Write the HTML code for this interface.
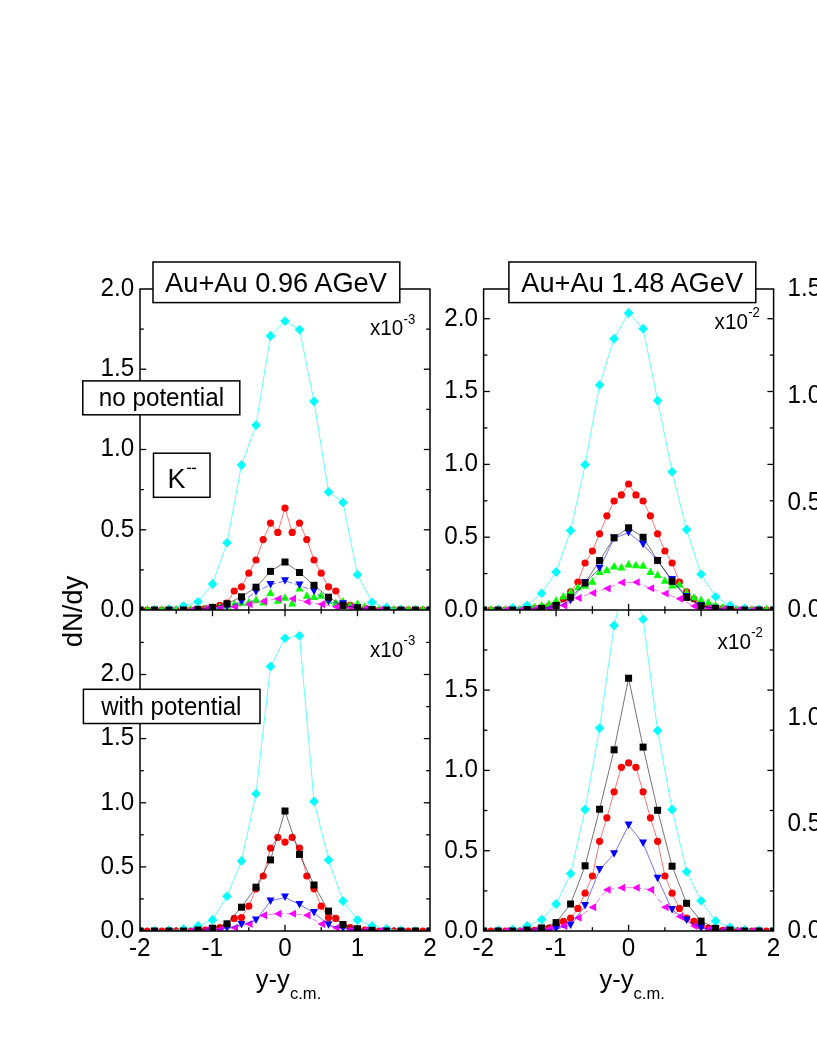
<!DOCTYPE html>
<html><head><meta charset="utf-8"><title>dN/dy</title>
<style>html,body{margin:0;padding:0;background:#fff}body{width:817px;height:1058px;overflow:hidden;font-family:"Liberation Sans",sans-serif}</style></head>
<body>
<svg width="817" height="1058" viewBox="0 0 817 1058" style="display:block;will-change:transform">
<defs>
<clipPath id="c1t"><rect x="140.0" y="289.0" width="290.0" height="321.0"/></clipPath>
<clipPath id="c1b"><rect x="140.0" y="610.0" width="290.0" height="321.0"/></clipPath>
<clipPath id="c2t"><rect x="483.6" y="289.0" width="290.0" height="321.0"/></clipPath>
<clipPath id="c2b"><rect x="483.6" y="610.0" width="290.0" height="321.0"/></clipPath>
</defs>
<rect width="817" height="1058" fill="#fff"/>
<line x1="140.0" y1="569.9" x2="143.8" y2="569.9" stroke="#000" stroke-width="1.3"/>
<line x1="426.2" y1="569.9" x2="430.0" y2="569.9" stroke="#000" stroke-width="1.3"/>
<line x1="140.0" y1="529.8" x2="146.2" y2="529.8" stroke="#000" stroke-width="1.3"/>
<line x1="423.8" y1="529.8" x2="430.0" y2="529.8" stroke="#000" stroke-width="1.3"/>
<line x1="140.0" y1="489.6" x2="143.8" y2="489.6" stroke="#000" stroke-width="1.3"/>
<line x1="426.2" y1="489.6" x2="430.0" y2="489.6" stroke="#000" stroke-width="1.3"/>
<line x1="140.0" y1="449.5" x2="146.2" y2="449.5" stroke="#000" stroke-width="1.3"/>
<line x1="423.8" y1="449.5" x2="430.0" y2="449.5" stroke="#000" stroke-width="1.3"/>
<line x1="140.0" y1="409.4" x2="143.8" y2="409.4" stroke="#000" stroke-width="1.3"/>
<line x1="426.2" y1="409.4" x2="430.0" y2="409.4" stroke="#000" stroke-width="1.3"/>
<line x1="140.0" y1="369.2" x2="146.2" y2="369.2" stroke="#000" stroke-width="1.3"/>
<line x1="423.8" y1="369.2" x2="430.0" y2="369.2" stroke="#000" stroke-width="1.3"/>
<line x1="140.0" y1="329.1" x2="143.8" y2="329.1" stroke="#000" stroke-width="1.3"/>
<line x1="426.2" y1="329.1" x2="430.0" y2="329.1" stroke="#000" stroke-width="1.3"/>
<line x1="140.0" y1="898.9" x2="143.8" y2="898.9" stroke="#000" stroke-width="1.3"/>
<line x1="426.2" y1="898.9" x2="430.0" y2="898.9" stroke="#000" stroke-width="1.3"/>
<line x1="140.0" y1="866.9" x2="146.2" y2="866.9" stroke="#000" stroke-width="1.3"/>
<line x1="423.8" y1="866.9" x2="430.0" y2="866.9" stroke="#000" stroke-width="1.3"/>
<line x1="140.0" y1="834.8" x2="143.8" y2="834.8" stroke="#000" stroke-width="1.3"/>
<line x1="426.2" y1="834.8" x2="430.0" y2="834.8" stroke="#000" stroke-width="1.3"/>
<line x1="140.0" y1="802.8" x2="146.2" y2="802.8" stroke="#000" stroke-width="1.3"/>
<line x1="423.8" y1="802.8" x2="430.0" y2="802.8" stroke="#000" stroke-width="1.3"/>
<line x1="140.0" y1="770.7" x2="143.8" y2="770.7" stroke="#000" stroke-width="1.3"/>
<line x1="426.2" y1="770.7" x2="430.0" y2="770.7" stroke="#000" stroke-width="1.3"/>
<line x1="140.0" y1="738.6" x2="146.2" y2="738.6" stroke="#000" stroke-width="1.3"/>
<line x1="423.8" y1="738.6" x2="430.0" y2="738.6" stroke="#000" stroke-width="1.3"/>
<line x1="140.0" y1="706.6" x2="143.8" y2="706.6" stroke="#000" stroke-width="1.3"/>
<line x1="426.2" y1="706.6" x2="430.0" y2="706.6" stroke="#000" stroke-width="1.3"/>
<line x1="140.0" y1="674.5" x2="146.2" y2="674.5" stroke="#000" stroke-width="1.3"/>
<line x1="423.8" y1="674.5" x2="430.0" y2="674.5" stroke="#000" stroke-width="1.3"/>
<line x1="140.0" y1="642.4" x2="143.8" y2="642.4" stroke="#000" stroke-width="1.3"/>
<line x1="426.2" y1="642.4" x2="430.0" y2="642.4" stroke="#000" stroke-width="1.3"/>
<line x1="483.6" y1="573.6" x2="487.4" y2="573.6" stroke="#000" stroke-width="1.3"/>
<line x1="769.8" y1="573.6" x2="773.6" y2="573.6" stroke="#000" stroke-width="1.3"/>
<line x1="483.6" y1="537.2" x2="489.8" y2="537.2" stroke="#000" stroke-width="1.3"/>
<line x1="767.4" y1="537.2" x2="773.6" y2="537.2" stroke="#000" stroke-width="1.3"/>
<line x1="483.6" y1="500.8" x2="487.4" y2="500.8" stroke="#000" stroke-width="1.3"/>
<line x1="769.8" y1="500.8" x2="773.6" y2="500.8" stroke="#000" stroke-width="1.3"/>
<line x1="483.6" y1="464.4" x2="489.8" y2="464.4" stroke="#000" stroke-width="1.3"/>
<line x1="767.4" y1="464.4" x2="773.6" y2="464.4" stroke="#000" stroke-width="1.3"/>
<line x1="483.6" y1="427.9" x2="487.4" y2="427.9" stroke="#000" stroke-width="1.3"/>
<line x1="769.8" y1="427.9" x2="773.6" y2="427.9" stroke="#000" stroke-width="1.3"/>
<line x1="483.6" y1="391.5" x2="489.8" y2="391.5" stroke="#000" stroke-width="1.3"/>
<line x1="767.4" y1="391.5" x2="773.6" y2="391.5" stroke="#000" stroke-width="1.3"/>
<line x1="483.6" y1="355.1" x2="487.4" y2="355.1" stroke="#000" stroke-width="1.3"/>
<line x1="769.8" y1="355.1" x2="773.6" y2="355.1" stroke="#000" stroke-width="1.3"/>
<line x1="483.6" y1="318.7" x2="489.8" y2="318.7" stroke="#000" stroke-width="1.3"/>
<line x1="767.4" y1="318.7" x2="773.6" y2="318.7" stroke="#000" stroke-width="1.3"/>
<line x1="483.6" y1="890.9" x2="487.4" y2="890.9" stroke="#000" stroke-width="1.3"/>
<line x1="769.8" y1="890.9" x2="773.6" y2="890.9" stroke="#000" stroke-width="1.3"/>
<line x1="483.6" y1="850.7" x2="489.8" y2="850.7" stroke="#000" stroke-width="1.3"/>
<line x1="767.4" y1="850.7" x2="773.6" y2="850.7" stroke="#000" stroke-width="1.3"/>
<line x1="483.6" y1="810.5" x2="487.4" y2="810.5" stroke="#000" stroke-width="1.3"/>
<line x1="769.8" y1="810.5" x2="773.6" y2="810.5" stroke="#000" stroke-width="1.3"/>
<line x1="483.6" y1="770.4" x2="489.8" y2="770.4" stroke="#000" stroke-width="1.3"/>
<line x1="767.4" y1="770.4" x2="773.6" y2="770.4" stroke="#000" stroke-width="1.3"/>
<line x1="483.6" y1="730.2" x2="487.4" y2="730.2" stroke="#000" stroke-width="1.3"/>
<line x1="769.8" y1="730.2" x2="773.6" y2="730.2" stroke="#000" stroke-width="1.3"/>
<line x1="483.6" y1="690.1" x2="489.8" y2="690.1" stroke="#000" stroke-width="1.3"/>
<line x1="767.4" y1="690.1" x2="773.6" y2="690.1" stroke="#000" stroke-width="1.3"/>
<line x1="483.6" y1="650.0" x2="487.4" y2="650.0" stroke="#000" stroke-width="1.3"/>
<line x1="769.8" y1="650.0" x2="773.6" y2="650.0" stroke="#000" stroke-width="1.3"/>
<line x1="176.2" y1="606.2" x2="176.2" y2="613.8" stroke="#000" stroke-width="1.3"/>
<line x1="176.2" y1="927.2" x2="176.2" y2="931.0" stroke="#000" stroke-width="1.3"/>
<line x1="212.5" y1="603.8" x2="212.5" y2="616.2" stroke="#000" stroke-width="1.3"/>
<line x1="212.5" y1="924.8" x2="212.5" y2="931.0" stroke="#000" stroke-width="1.3"/>
<line x1="248.8" y1="606.2" x2="248.8" y2="613.8" stroke="#000" stroke-width="1.3"/>
<line x1="248.8" y1="927.2" x2="248.8" y2="931.0" stroke="#000" stroke-width="1.3"/>
<line x1="285.0" y1="603.8" x2="285.0" y2="616.2" stroke="#000" stroke-width="1.3"/>
<line x1="285.0" y1="924.8" x2="285.0" y2="931.0" stroke="#000" stroke-width="1.3"/>
<line x1="321.2" y1="606.2" x2="321.2" y2="613.8" stroke="#000" stroke-width="1.3"/>
<line x1="321.2" y1="927.2" x2="321.2" y2="931.0" stroke="#000" stroke-width="1.3"/>
<line x1="357.5" y1="603.8" x2="357.5" y2="616.2" stroke="#000" stroke-width="1.3"/>
<line x1="357.5" y1="924.8" x2="357.5" y2="931.0" stroke="#000" stroke-width="1.3"/>
<line x1="393.8" y1="606.2" x2="393.8" y2="613.8" stroke="#000" stroke-width="1.3"/>
<line x1="393.8" y1="927.2" x2="393.8" y2="931.0" stroke="#000" stroke-width="1.3"/>
<line x1="519.9" y1="606.2" x2="519.9" y2="613.8" stroke="#000" stroke-width="1.3"/>
<line x1="519.9" y1="927.2" x2="519.9" y2="931.0" stroke="#000" stroke-width="1.3"/>
<line x1="556.1" y1="603.8" x2="556.1" y2="616.2" stroke="#000" stroke-width="1.3"/>
<line x1="556.1" y1="924.8" x2="556.1" y2="931.0" stroke="#000" stroke-width="1.3"/>
<line x1="592.4" y1="606.2" x2="592.4" y2="613.8" stroke="#000" stroke-width="1.3"/>
<line x1="592.4" y1="927.2" x2="592.4" y2="931.0" stroke="#000" stroke-width="1.3"/>
<line x1="628.6" y1="603.8" x2="628.6" y2="616.2" stroke="#000" stroke-width="1.3"/>
<line x1="628.6" y1="924.8" x2="628.6" y2="931.0" stroke="#000" stroke-width="1.3"/>
<line x1="664.9" y1="606.2" x2="664.9" y2="613.8" stroke="#000" stroke-width="1.3"/>
<line x1="664.9" y1="927.2" x2="664.9" y2="931.0" stroke="#000" stroke-width="1.3"/>
<line x1="701.1" y1="603.8" x2="701.1" y2="616.2" stroke="#000" stroke-width="1.3"/>
<line x1="701.1" y1="924.8" x2="701.1" y2="931.0" stroke="#000" stroke-width="1.3"/>
<line x1="737.4" y1="606.2" x2="737.4" y2="613.8" stroke="#000" stroke-width="1.3"/>
<line x1="737.4" y1="927.2" x2="737.4" y2="931.0" stroke="#000" stroke-width="1.3"/>
<g clip-path="url(#c1t)">
<polyline points="140.0,610.0 147.2,610.0 154.5,610.0 161.8,610.0 169.0,610.0 176.2,610.0 183.5,610.0 190.8,610.0 198.0,609.3 205.2,608.5 212.5,607.5 219.8,605.3 227.0,603.0 234.2,591.0 241.5,586.8 248.8,573.2 256.0,560.0 263.2,539.6 270.5,523.1 277.8,532.4 285.0,508.1 292.2,532.4 299.5,523.1 306.8,539.6 314.0,560.0 321.2,573.2 328.5,586.8 335.8,591.0 343.0,603.0 350.2,605.3 357.5,607.5 364.8,608.5 372.0,609.3 379.2,610.0 386.5,610.0 393.8,610.0 401.0,610.0 408.2,610.0 415.5,610.0 422.8,610.0 430.0,610.0" fill="none" stroke="#ff0000" stroke-width="0.55"/>
<circle cx="140.0" cy="610.0" r="3.6" fill="#ff0000"/>
<circle cx="147.2" cy="610.0" r="3.6" fill="#ff0000"/>
<circle cx="154.5" cy="610.0" r="3.6" fill="#ff0000"/>
<circle cx="161.8" cy="610.0" r="3.6" fill="#ff0000"/>
<circle cx="169.0" cy="610.0" r="3.6" fill="#ff0000"/>
<circle cx="176.2" cy="610.0" r="3.6" fill="#ff0000"/>
<circle cx="183.5" cy="610.0" r="3.6" fill="#ff0000"/>
<circle cx="190.8" cy="610.0" r="3.6" fill="#ff0000"/>
<circle cx="198.0" cy="609.3" r="3.6" fill="#ff0000"/>
<circle cx="205.2" cy="608.5" r="3.6" fill="#ff0000"/>
<circle cx="212.5" cy="607.5" r="3.6" fill="#ff0000"/>
<circle cx="219.8" cy="605.3" r="3.6" fill="#ff0000"/>
<circle cx="227.0" cy="603.0" r="3.6" fill="#ff0000"/>
<circle cx="234.2" cy="591.0" r="3.6" fill="#ff0000"/>
<circle cx="241.5" cy="586.8" r="3.6" fill="#ff0000"/>
<circle cx="248.8" cy="573.2" r="3.6" fill="#ff0000"/>
<circle cx="256.0" cy="560.0" r="3.6" fill="#ff0000"/>
<circle cx="263.2" cy="539.6" r="3.6" fill="#ff0000"/>
<circle cx="270.5" cy="523.1" r="3.6" fill="#ff0000"/>
<circle cx="277.8" cy="532.4" r="3.6" fill="#ff0000"/>
<circle cx="285.0" cy="508.1" r="3.6" fill="#ff0000"/>
<circle cx="292.2" cy="532.4" r="3.6" fill="#ff0000"/>
<circle cx="299.5" cy="523.1" r="3.6" fill="#ff0000"/>
<circle cx="306.8" cy="539.6" r="3.6" fill="#ff0000"/>
<circle cx="314.0" cy="560.0" r="3.6" fill="#ff0000"/>
<circle cx="321.2" cy="573.2" r="3.6" fill="#ff0000"/>
<circle cx="328.5" cy="586.8" r="3.6" fill="#ff0000"/>
<circle cx="335.8" cy="591.0" r="3.6" fill="#ff0000"/>
<circle cx="343.0" cy="603.0" r="3.6" fill="#ff0000"/>
<circle cx="350.2" cy="605.3" r="3.6" fill="#ff0000"/>
<circle cx="357.5" cy="607.5" r="3.6" fill="#ff0000"/>
<circle cx="364.8" cy="608.5" r="3.6" fill="#ff0000"/>
<circle cx="372.0" cy="609.3" r="3.6" fill="#ff0000"/>
<circle cx="379.2" cy="610.0" r="3.6" fill="#ff0000"/>
<circle cx="386.5" cy="610.0" r="3.6" fill="#ff0000"/>
<circle cx="393.8" cy="610.0" r="3.6" fill="#ff0000"/>
<circle cx="401.0" cy="610.0" r="3.6" fill="#ff0000"/>
<circle cx="408.2" cy="610.0" r="3.6" fill="#ff0000"/>
<circle cx="415.5" cy="610.0" r="3.6" fill="#ff0000"/>
<circle cx="422.8" cy="610.0" r="3.6" fill="#ff0000"/>
<circle cx="430.0" cy="610.0" r="3.6" fill="#ff0000"/>
<polyline points="140.0,608.7 147.2,608.7 154.5,608.7 161.8,608.7 169.0,608.7 176.2,608.7 183.5,608.7 190.8,608.7 198.0,608.5 205.2,608.0 212.5,607.0 219.8,606.0 227.0,605.0 234.2,603.7 241.5,602.0 248.8,601.8 256.0,599.3 263.2,601.8 270.5,592.4 277.8,600.0 285.0,597.0 292.2,602.7 299.5,587.8 306.8,595.0 314.0,596.2 321.2,595.0 328.5,600.0 335.8,602.4 343.0,600.6 350.2,605.0 357.5,603.0 364.8,606.0 372.0,607.5 379.2,608.5 386.5,608.7 393.8,608.7 401.0,608.7 408.2,608.7 415.5,608.7 422.8,608.7 430.0,608.7" fill="none" stroke="#00ff00" stroke-width="0.55" stroke-dasharray="4 2.5"/>
<polygon points="136.0,612.5 144.0,612.5 140.0,605.0" fill="#00ff00"/>
<polygon points="143.2,612.5 151.2,612.5 147.2,605.0" fill="#00ff00"/>
<polygon points="150.5,612.5 158.5,612.5 154.5,605.0" fill="#00ff00"/>
<polygon points="157.8,612.5 165.8,612.5 161.8,605.0" fill="#00ff00"/>
<polygon points="165.0,612.5 173.0,612.5 169.0,605.0" fill="#00ff00"/>
<polygon points="172.2,612.5 180.2,612.5 176.2,605.0" fill="#00ff00"/>
<polygon points="179.5,612.5 187.5,612.5 183.5,605.0" fill="#00ff00"/>
<polygon points="186.8,612.5 194.8,612.5 190.8,605.0" fill="#00ff00"/>
<polygon points="194.0,612.2 202.0,612.2 198.0,604.8" fill="#00ff00"/>
<polygon points="201.2,611.8 209.2,611.8 205.2,604.2" fill="#00ff00"/>
<polygon points="208.5,610.8 216.5,610.8 212.5,603.2" fill="#00ff00"/>
<polygon points="215.8,609.8 223.8,609.8 219.8,602.2" fill="#00ff00"/>
<polygon points="223.0,608.8 231.0,608.8 227.0,601.2" fill="#00ff00"/>
<polygon points="230.2,607.5 238.2,607.5 234.2,600.0" fill="#00ff00"/>
<polygon points="237.5,605.8 245.5,605.8 241.5,598.2" fill="#00ff00"/>
<polygon points="244.8,605.5 252.8,605.5 248.8,598.0" fill="#00ff00"/>
<polygon points="252.0,603.0 260.0,603.0 256.0,595.5" fill="#00ff00"/>
<polygon points="259.2,605.5 267.2,605.5 263.2,598.0" fill="#00ff00"/>
<polygon points="266.5,596.1 274.5,596.1 270.5,588.6" fill="#00ff00"/>
<polygon points="273.8,603.8 281.8,603.8 277.8,596.2" fill="#00ff00"/>
<polygon points="281.0,600.8 289.0,600.8 285.0,593.2" fill="#00ff00"/>
<polygon points="288.2,606.5 296.2,606.5 292.2,599.0" fill="#00ff00"/>
<polygon points="295.5,591.5 303.5,591.5 299.5,584.0" fill="#00ff00"/>
<polygon points="302.8,598.8 310.8,598.8 306.8,591.2" fill="#00ff00"/>
<polygon points="310.0,600.0 318.0,600.0 314.0,592.5" fill="#00ff00"/>
<polygon points="317.2,598.8 325.2,598.8 321.2,591.2" fill="#00ff00"/>
<polygon points="324.5,603.8 332.5,603.8 328.5,596.2" fill="#00ff00"/>
<polygon points="331.8,606.1 339.8,606.1 335.8,598.6" fill="#00ff00"/>
<polygon points="339.0,604.4 347.0,604.4 343.0,596.9" fill="#00ff00"/>
<polygon points="346.2,608.8 354.2,608.8 350.2,601.2" fill="#00ff00"/>
<polygon points="353.5,606.8 361.5,606.8 357.5,599.2" fill="#00ff00"/>
<polygon points="360.8,609.8 368.8,609.8 364.8,602.2" fill="#00ff00"/>
<polygon points="368.0,611.2 376.0,611.2 372.0,603.8" fill="#00ff00"/>
<polygon points="375.2,612.2 383.2,612.2 379.2,604.8" fill="#00ff00"/>
<polygon points="382.5,612.5 390.5,612.5 386.5,605.0" fill="#00ff00"/>
<polygon points="389.8,612.5 397.8,612.5 393.8,605.0" fill="#00ff00"/>
<polygon points="397.0,612.5 405.0,612.5 401.0,605.0" fill="#00ff00"/>
<polygon points="404.2,612.5 412.2,612.5 408.2,605.0" fill="#00ff00"/>
<polygon points="411.5,612.5 419.5,612.5 415.5,605.0" fill="#00ff00"/>
<polygon points="418.8,612.5 426.8,612.5 422.8,605.0" fill="#00ff00"/>
<polygon points="426.0,612.5 434.0,612.5 430.0,605.0" fill="#00ff00"/>
<polyline points="140.0,610.0 154.5,610.0 169.0,609.0 183.5,606.0 198.0,601.8 212.5,584.0 227.0,542.8 241.5,465.0 256.0,425.2 270.5,336.0 285.0,321.1 299.5,329.6 314.0,401.3 328.5,491.9 343.0,502.4 357.5,574.8 372.0,602.3 386.5,607.5 401.0,609.5 415.5,610.0 430.0,610.0" fill="none" stroke="#00ffff" stroke-width="0.62"/>
<polygon points="135.2,610.0 140.0,605.1 144.8,610.0 140.0,614.9" fill="#00ffff"/>
<polygon points="149.7,610.0 154.5,605.1 159.3,610.0 154.5,614.9" fill="#00ffff"/>
<polygon points="164.2,609.0 169.0,604.1 173.8,609.0 169.0,613.9" fill="#00ffff"/>
<polygon points="178.7,606.0 183.5,601.1 188.3,606.0 183.5,610.9" fill="#00ffff"/>
<polygon points="193.2,601.8 198.0,596.9 202.8,601.8 198.0,606.6" fill="#00ffff"/>
<polygon points="207.7,584.0 212.5,579.1 217.3,584.0 212.5,588.9" fill="#00ffff"/>
<polygon points="222.2,542.8 227.0,537.9 231.8,542.8 227.0,547.6" fill="#00ffff"/>
<polygon points="236.7,465.0 241.5,460.1 246.3,465.0 241.5,469.9" fill="#00ffff"/>
<polygon points="251.2,425.2 256.0,420.3 260.9,425.2 256.0,430.1" fill="#00ffff"/>
<polygon points="265.6,336.0 270.5,331.1 275.4,336.0 270.5,340.9" fill="#00ffff"/>
<polygon points="280.1,321.1 285.0,316.2 289.9,321.1 285.0,326.0" fill="#00ffff"/>
<polygon points="294.6,329.6 299.5,324.8 304.4,329.6 299.5,334.5" fill="#00ffff"/>
<polygon points="309.1,401.3 314.0,396.4 318.9,401.3 314.0,406.2" fill="#00ffff"/>
<polygon points="323.6,491.9 328.5,487.0 333.4,491.9 328.5,496.8" fill="#00ffff"/>
<polygon points="338.1,502.4 343.0,497.5 347.9,502.4 343.0,507.2" fill="#00ffff"/>
<polygon points="352.6,574.8 357.5,569.9 362.4,574.8 357.5,579.6" fill="#00ffff"/>
<polygon points="367.1,602.3 372.0,597.4 376.9,602.3 372.0,607.1" fill="#00ffff"/>
<polygon points="381.6,607.5 386.5,602.6 391.4,607.5 386.5,612.4" fill="#00ffff"/>
<polygon points="396.1,609.5 401.0,604.6 405.9,609.5 401.0,614.4" fill="#00ffff"/>
<polygon points="410.6,610.0 415.5,605.1 420.4,610.0 415.5,614.9" fill="#00ffff"/>
<polygon points="425.1,610.0 430.0,605.1 434.9,610.0 430.0,614.9" fill="#00ffff"/>
<polyline points="190.8,610.0 205.2,608.8 219.8,607.5 234.2,606.8 248.8,604.3 263.2,601.2 277.8,598.7 292.2,598.7 306.8,601.8 321.2,604.3 335.8,606.8 350.2,607.5 364.8,608.5 379.2,610.0" fill="none" stroke="#ff00ff" stroke-width="0.55" stroke-dasharray="6 3"/>
<polygon points="194.5,606.0 194.5,614.0 187.0,610.0" fill="#ff00ff"/>
<polygon points="209.0,604.8 209.0,612.8 201.5,608.8" fill="#ff00ff"/>
<polygon points="223.5,603.5 223.5,611.5 216.0,607.5" fill="#ff00ff"/>
<polygon points="238.0,602.8 238.0,610.8 230.5,606.8" fill="#ff00ff"/>
<polygon points="252.5,600.3 252.5,608.3 245.0,604.3" fill="#ff00ff"/>
<polygon points="267.0,597.2 267.0,605.2 259.5,601.2" fill="#ff00ff"/>
<polygon points="281.5,594.7 281.5,602.7 274.0,598.7" fill="#ff00ff"/>
<polygon points="296.0,594.7 296.0,602.7 288.5,598.7" fill="#ff00ff"/>
<polygon points="310.5,597.8 310.5,605.8 303.0,601.8" fill="#ff00ff"/>
<polygon points="325.0,600.3 325.0,608.3 317.5,604.3" fill="#ff00ff"/>
<polygon points="339.5,602.8 339.5,610.8 332.0,606.8" fill="#ff00ff"/>
<polygon points="354.0,603.5 354.0,611.5 346.5,607.5" fill="#ff00ff"/>
<polygon points="368.5,604.5 368.5,612.5 361.0,608.5" fill="#ff00ff"/>
<polygon points="383.0,606.0 383.0,614.0 375.5,610.0" fill="#ff00ff"/>
<polyline points="140.0,611.2 154.5,611.2 169.0,611.2 183.5,611.2 198.0,611.2 212.5,609.0 227.0,606.8 241.5,601.8 256.0,592.0 270.5,584.7 285.0,581.0 299.5,585.3 314.0,591.2 328.5,601.8 343.0,604.0 357.5,608.0 372.0,611.2 386.5,611.2 401.0,611.2 415.5,611.2 430.0,611.2" fill="none" stroke="#0000ff" stroke-width="0.55" stroke-dasharray="6 2.5"/>
<polygon points="136.0,607.5 144.0,607.5 140.0,615.0" fill="#0000ff"/>
<polygon points="150.5,607.5 158.5,607.5 154.5,615.0" fill="#0000ff"/>
<polygon points="165.0,607.5 173.0,607.5 169.0,615.0" fill="#0000ff"/>
<polygon points="179.5,607.5 187.5,607.5 183.5,615.0" fill="#0000ff"/>
<polygon points="194.0,607.5 202.0,607.5 198.0,615.0" fill="#0000ff"/>
<polygon points="208.5,605.2 216.5,605.2 212.5,612.8" fill="#0000ff"/>
<polygon points="223.0,603.0 231.0,603.0 227.0,610.5" fill="#0000ff"/>
<polygon points="237.5,598.0 245.5,598.0 241.5,605.5" fill="#0000ff"/>
<polygon points="252.0,588.2 260.0,588.2 256.0,595.8" fill="#0000ff"/>
<polygon points="266.5,581.0 274.5,581.0 270.5,588.5" fill="#0000ff"/>
<polygon points="281.0,577.2 289.0,577.2 285.0,584.8" fill="#0000ff"/>
<polygon points="295.5,581.5 303.5,581.5 299.5,589.0" fill="#0000ff"/>
<polygon points="310.0,587.5 318.0,587.5 314.0,595.0" fill="#0000ff"/>
<polygon points="324.5,598.0 332.5,598.0 328.5,605.5" fill="#0000ff"/>
<polygon points="339.0,600.2 347.0,600.2 343.0,607.8" fill="#0000ff"/>
<polygon points="353.5,604.2 361.5,604.2 357.5,611.8" fill="#0000ff"/>
<polygon points="368.0,607.5 376.0,607.5 372.0,615.0" fill="#0000ff"/>
<polygon points="382.5,607.5 390.5,607.5 386.5,615.0" fill="#0000ff"/>
<polygon points="397.0,607.5 405.0,607.5 401.0,615.0" fill="#0000ff"/>
<polygon points="411.5,607.5 419.5,607.5 415.5,615.0" fill="#0000ff"/>
<polygon points="426.0,607.5 434.0,607.5 430.0,615.0" fill="#0000ff"/>
<polyline points="140.0,610.0 154.5,610.0 169.0,610.0 183.5,610.0 198.0,609.3 212.5,607.4 227.0,603.8 241.5,596.8 256.0,587.2 270.5,571.4 285.0,562.0 299.5,572.5 314.0,585.3 328.5,597.2 343.0,605.5 357.5,608.0 372.0,609.5 386.5,610.0 401.0,610.0 415.5,610.0 430.0,610.0" fill="none" stroke="#000000" stroke-width="0.55"/>
<rect x="136.5" y="606.5" width="7" height="7" fill="#000000"/>
<rect x="151.0" y="606.5" width="7" height="7" fill="#000000"/>
<rect x="165.5" y="606.5" width="7" height="7" fill="#000000"/>
<rect x="180.0" y="606.5" width="7" height="7" fill="#000000"/>
<rect x="194.5" y="605.8" width="7" height="7" fill="#000000"/>
<rect x="209.0" y="603.9" width="7" height="7" fill="#000000"/>
<rect x="223.5" y="600.3" width="7" height="7" fill="#000000"/>
<rect x="238.0" y="593.3" width="7" height="7" fill="#000000"/>
<rect x="252.5" y="583.7" width="7" height="7" fill="#000000"/>
<rect x="267.0" y="567.9" width="7" height="7" fill="#000000"/>
<rect x="281.5" y="558.5" width="7" height="7" fill="#000000"/>
<rect x="296.0" y="569.0" width="7" height="7" fill="#000000"/>
<rect x="310.5" y="581.8" width="7" height="7" fill="#000000"/>
<rect x="325.0" y="593.7" width="7" height="7" fill="#000000"/>
<rect x="339.5" y="602.0" width="7" height="7" fill="#000000"/>
<rect x="354.0" y="604.5" width="7" height="7" fill="#000000"/>
<rect x="368.5" y="606.0" width="7" height="7" fill="#000000"/>
<rect x="383.0" y="606.5" width="7" height="7" fill="#000000"/>
<rect x="397.5" y="606.5" width="7" height="7" fill="#000000"/>
<rect x="412.0" y="606.5" width="7" height="7" fill="#000000"/>
<rect x="426.5" y="606.5" width="7" height="7" fill="#000000"/>
</g>
<g clip-path="url(#c1b)">
<polyline points="140.0,931.0 147.2,931.0 154.5,931.0 161.8,931.0 169.0,931.0 176.2,931.0 183.5,931.0 190.8,931.0 198.0,931.0 205.2,930.0 212.5,929.0 219.8,927.6 227.0,925.0 234.2,918.4 241.5,917.6 248.8,906.2 256.0,888.8 263.2,876.0 270.5,848.1 277.8,837.3 285.0,842.1 292.2,837.3 299.5,848.1 306.8,876.0 314.0,888.8 321.2,906.2 328.5,917.6 335.8,918.4 343.0,925.0 350.2,927.6 357.5,929.0 364.8,930.0 372.0,931.0 379.2,931.0 386.5,931.0 393.8,931.0 401.0,931.0 408.2,931.0 415.5,931.0 422.8,931.0 430.0,931.0" fill="none" stroke="#ff0000" stroke-width="0.55"/>
<circle cx="140.0" cy="931.0" r="3.6" fill="#ff0000"/>
<circle cx="147.2" cy="931.0" r="3.6" fill="#ff0000"/>
<circle cx="154.5" cy="931.0" r="3.6" fill="#ff0000"/>
<circle cx="161.8" cy="931.0" r="3.6" fill="#ff0000"/>
<circle cx="169.0" cy="931.0" r="3.6" fill="#ff0000"/>
<circle cx="176.2" cy="931.0" r="3.6" fill="#ff0000"/>
<circle cx="183.5" cy="931.0" r="3.6" fill="#ff0000"/>
<circle cx="190.8" cy="931.0" r="3.6" fill="#ff0000"/>
<circle cx="198.0" cy="931.0" r="3.6" fill="#ff0000"/>
<circle cx="205.2" cy="930.0" r="3.6" fill="#ff0000"/>
<circle cx="212.5" cy="929.0" r="3.6" fill="#ff0000"/>
<circle cx="219.8" cy="927.6" r="3.6" fill="#ff0000"/>
<circle cx="227.0" cy="925.0" r="3.6" fill="#ff0000"/>
<circle cx="234.2" cy="918.4" r="3.6" fill="#ff0000"/>
<circle cx="241.5" cy="917.6" r="3.6" fill="#ff0000"/>
<circle cx="248.8" cy="906.2" r="3.6" fill="#ff0000"/>
<circle cx="256.0" cy="888.8" r="3.6" fill="#ff0000"/>
<circle cx="263.2" cy="876.0" r="3.6" fill="#ff0000"/>
<circle cx="270.5" cy="848.1" r="3.6" fill="#ff0000"/>
<circle cx="277.8" cy="837.3" r="3.6" fill="#ff0000"/>
<circle cx="285.0" cy="842.1" r="3.6" fill="#ff0000"/>
<circle cx="292.2" cy="837.3" r="3.6" fill="#ff0000"/>
<circle cx="299.5" cy="848.1" r="3.6" fill="#ff0000"/>
<circle cx="306.8" cy="876.0" r="3.6" fill="#ff0000"/>
<circle cx="314.0" cy="888.8" r="3.6" fill="#ff0000"/>
<circle cx="321.2" cy="906.2" r="3.6" fill="#ff0000"/>
<circle cx="328.5" cy="917.6" r="3.6" fill="#ff0000"/>
<circle cx="335.8" cy="918.4" r="3.6" fill="#ff0000"/>
<circle cx="343.0" cy="925.0" r="3.6" fill="#ff0000"/>
<circle cx="350.2" cy="927.6" r="3.6" fill="#ff0000"/>
<circle cx="357.5" cy="929.0" r="3.6" fill="#ff0000"/>
<circle cx="364.8" cy="930.0" r="3.6" fill="#ff0000"/>
<circle cx="372.0" cy="931.0" r="3.6" fill="#ff0000"/>
<circle cx="379.2" cy="931.0" r="3.6" fill="#ff0000"/>
<circle cx="386.5" cy="931.0" r="3.6" fill="#ff0000"/>
<circle cx="393.8" cy="931.0" r="3.6" fill="#ff0000"/>
<circle cx="401.0" cy="931.0" r="3.6" fill="#ff0000"/>
<circle cx="408.2" cy="931.0" r="3.6" fill="#ff0000"/>
<circle cx="415.5" cy="931.0" r="3.6" fill="#ff0000"/>
<circle cx="422.8" cy="931.0" r="3.6" fill="#ff0000"/>
<circle cx="430.0" cy="931.0" r="3.6" fill="#ff0000"/>
<polyline points="140.0,931.0 154.5,931.0 169.0,930.5 183.5,929.0 198.0,926.0 212.5,919.9 227.0,896.2 241.5,861.0 256.0,793.8 270.5,666.4 285.0,638.2 299.5,635.7 314.0,801.4 328.5,859.9 343.0,901.0 357.5,920.0 372.0,925.9 386.5,929.0 401.0,930.5 415.5,931.0 430.0,931.0" fill="none" stroke="#00ffff" stroke-width="0.62"/>
<polygon points="135.2,931.0 140.0,926.1 144.8,931.0 140.0,935.9" fill="#00ffff"/>
<polygon points="149.7,931.0 154.5,926.1 159.3,931.0 154.5,935.9" fill="#00ffff"/>
<polygon points="164.2,930.5 169.0,925.6 173.8,930.5 169.0,935.4" fill="#00ffff"/>
<polygon points="178.7,929.0 183.5,924.1 188.3,929.0 183.5,933.9" fill="#00ffff"/>
<polygon points="193.2,926.0 198.0,921.1 202.8,926.0 198.0,930.9" fill="#00ffff"/>
<polygon points="207.7,919.9 212.5,915.0 217.3,919.9 212.5,924.8" fill="#00ffff"/>
<polygon points="222.2,896.2 227.0,891.4 231.8,896.2 227.0,901.1" fill="#00ffff"/>
<polygon points="236.7,861.0 241.5,856.1 246.3,861.0 241.5,865.9" fill="#00ffff"/>
<polygon points="251.2,793.8 256.0,788.9 260.9,793.8 256.0,798.6" fill="#00ffff"/>
<polygon points="265.6,666.4 270.5,661.5 275.4,666.4 270.5,671.2" fill="#00ffff"/>
<polygon points="280.1,638.2 285.0,633.4 289.9,638.2 285.0,643.1" fill="#00ffff"/>
<polygon points="294.6,635.7 299.5,630.9 304.4,635.7 299.5,640.6" fill="#00ffff"/>
<polygon points="309.1,801.4 314.0,796.5 318.9,801.4 314.0,806.2" fill="#00ffff"/>
<polygon points="323.6,859.9 328.5,855.0 333.4,859.9 328.5,864.8" fill="#00ffff"/>
<polygon points="338.1,901.0 343.0,896.1 347.9,901.0 343.0,905.9" fill="#00ffff"/>
<polygon points="352.6,920.0 357.5,915.1 362.4,920.0 357.5,924.9" fill="#00ffff"/>
<polygon points="367.1,925.9 372.0,921.0 376.9,925.9 372.0,930.8" fill="#00ffff"/>
<polygon points="381.6,929.0 386.5,924.1 391.4,929.0 386.5,933.9" fill="#00ffff"/>
<polygon points="396.1,930.5 401.0,925.6 405.9,930.5 401.0,935.4" fill="#00ffff"/>
<polygon points="410.6,931.0 415.5,926.1 420.4,931.0 415.5,935.9" fill="#00ffff"/>
<polygon points="425.1,931.0 430.0,926.1 434.9,931.0 430.0,935.9" fill="#00ffff"/>
<polyline points="190.8,931.0 205.2,930.3 219.8,929.5 234.2,927.7 248.8,924.1 263.2,915.2 277.8,913.7 292.2,913.7 306.8,915.2 321.2,924.1 335.8,927.7 350.2,929.5 364.8,930.3 379.2,931.0" fill="none" stroke="#ff00ff" stroke-width="0.55" stroke-dasharray="6 3"/>
<polygon points="194.5,927.0 194.5,935.0 187.0,931.0" fill="#ff00ff"/>
<polygon points="209.0,926.3 209.0,934.3 201.5,930.3" fill="#ff00ff"/>
<polygon points="223.5,925.5 223.5,933.5 216.0,929.5" fill="#ff00ff"/>
<polygon points="238.0,923.7 238.0,931.7 230.5,927.7" fill="#ff00ff"/>
<polygon points="252.5,920.1 252.5,928.1 245.0,924.1" fill="#ff00ff"/>
<polygon points="267.0,911.2 267.0,919.2 259.5,915.2" fill="#ff00ff"/>
<polygon points="281.5,909.7 281.5,917.7 274.0,913.7" fill="#ff00ff"/>
<polygon points="296.0,909.7 296.0,917.7 288.5,913.7" fill="#ff00ff"/>
<polygon points="310.5,911.2 310.5,919.2 303.0,915.2" fill="#ff00ff"/>
<polygon points="325.0,920.1 325.0,928.1 317.5,924.1" fill="#ff00ff"/>
<polygon points="339.5,923.7 339.5,931.7 332.0,927.7" fill="#ff00ff"/>
<polygon points="354.0,925.5 354.0,933.5 346.5,929.5" fill="#ff00ff"/>
<polygon points="368.5,926.3 368.5,934.3 361.0,930.3" fill="#ff00ff"/>
<polygon points="383.0,927.0 383.0,935.0 375.5,931.0" fill="#ff00ff"/>
<polyline points="140.0,932.2 154.5,932.2 169.0,932.2 183.5,932.2 198.0,932.2 212.5,930.0 227.0,928.2 241.5,924.9 256.0,920.3 270.5,901.1 285.0,897.4 299.5,904.6 314.0,912.8 328.5,925.0 343.0,928.5 357.5,930.0 372.0,932.2 386.5,932.2 401.0,932.2 415.5,932.2 430.0,932.2" fill="none" stroke="#0000ff" stroke-width="0.55"/>
<polygon points="136.0,928.5 144.0,928.5 140.0,936.0" fill="#0000ff"/>
<polygon points="150.5,928.5 158.5,928.5 154.5,936.0" fill="#0000ff"/>
<polygon points="165.0,928.5 173.0,928.5 169.0,936.0" fill="#0000ff"/>
<polygon points="179.5,928.5 187.5,928.5 183.5,936.0" fill="#0000ff"/>
<polygon points="194.0,928.5 202.0,928.5 198.0,936.0" fill="#0000ff"/>
<polygon points="208.5,926.2 216.5,926.2 212.5,933.8" fill="#0000ff"/>
<polygon points="223.0,924.5 231.0,924.5 227.0,932.0" fill="#0000ff"/>
<polygon points="237.5,921.1 245.5,921.1 241.5,928.6" fill="#0000ff"/>
<polygon points="252.0,916.5 260.0,916.5 256.0,924.0" fill="#0000ff"/>
<polygon points="266.5,897.4 274.5,897.4 270.5,904.9" fill="#0000ff"/>
<polygon points="281.0,893.6 289.0,893.6 285.0,901.1" fill="#0000ff"/>
<polygon points="295.5,900.9 303.5,900.9 299.5,908.4" fill="#0000ff"/>
<polygon points="310.0,909.0 318.0,909.0 314.0,916.5" fill="#0000ff"/>
<polygon points="324.5,921.2 332.5,921.2 328.5,928.8" fill="#0000ff"/>
<polygon points="339.0,924.8 347.0,924.8 343.0,932.2" fill="#0000ff"/>
<polygon points="353.5,926.2 361.5,926.2 357.5,933.8" fill="#0000ff"/>
<polygon points="368.0,928.5 376.0,928.5 372.0,936.0" fill="#0000ff"/>
<polygon points="382.5,928.5 390.5,928.5 386.5,936.0" fill="#0000ff"/>
<polygon points="397.0,928.5 405.0,928.5 401.0,936.0" fill="#0000ff"/>
<polygon points="411.5,928.5 419.5,928.5 415.5,936.0" fill="#0000ff"/>
<polygon points="426.0,928.5 434.0,928.5 430.0,936.0" fill="#0000ff"/>
<polyline points="140.0,931.0 154.5,931.0 169.0,931.0 183.5,931.0 198.0,930.0 212.5,928.2 227.0,923.8 241.5,907.2 256.0,887.2 270.5,859.9 285.0,811.0 299.5,854.4 314.0,885.0 328.5,911.1 343.0,924.6 357.5,928.8 372.0,930.3 386.5,931.0 401.0,931.0 415.5,931.0 430.0,931.0" fill="none" stroke="#000000" stroke-width="0.55"/>
<rect x="136.5" y="927.5" width="7" height="7" fill="#000000"/>
<rect x="151.0" y="927.5" width="7" height="7" fill="#000000"/>
<rect x="165.5" y="927.5" width="7" height="7" fill="#000000"/>
<rect x="180.0" y="927.5" width="7" height="7" fill="#000000"/>
<rect x="194.5" y="926.5" width="7" height="7" fill="#000000"/>
<rect x="209.0" y="924.7" width="7" height="7" fill="#000000"/>
<rect x="223.5" y="920.3" width="7" height="7" fill="#000000"/>
<rect x="238.0" y="903.7" width="7" height="7" fill="#000000"/>
<rect x="252.5" y="883.7" width="7" height="7" fill="#000000"/>
<rect x="267.0" y="856.4" width="7" height="7" fill="#000000"/>
<rect x="281.5" y="807.5" width="7" height="7" fill="#000000"/>
<rect x="296.0" y="850.9" width="7" height="7" fill="#000000"/>
<rect x="310.5" y="881.5" width="7" height="7" fill="#000000"/>
<rect x="325.0" y="907.6" width="7" height="7" fill="#000000"/>
<rect x="339.5" y="921.1" width="7" height="7" fill="#000000"/>
<rect x="354.0" y="925.3" width="7" height="7" fill="#000000"/>
<rect x="368.5" y="926.8" width="7" height="7" fill="#000000"/>
<rect x="383.0" y="927.5" width="7" height="7" fill="#000000"/>
<rect x="397.5" y="927.5" width="7" height="7" fill="#000000"/>
<rect x="412.0" y="927.5" width="7" height="7" fill="#000000"/>
<rect x="426.5" y="927.5" width="7" height="7" fill="#000000"/>
</g>
<g clip-path="url(#c2t)">
<polyline points="483.6,610.0 490.9,610.0 498.1,610.0 505.4,610.0 512.6,610.0 519.9,610.0 527.1,609.2 534.4,608.5 541.6,607.5 548.9,606.0 556.1,603.5 563.4,599.0 570.6,591.8 577.9,582.0 585.1,563.0 592.4,551.0 599.6,533.8 606.9,515.8 614.1,501.0 621.4,494.9 628.6,484.0 635.9,494.9 643.1,501.0 650.4,515.8 657.6,533.8 664.9,551.0 672.1,563.0 679.4,582.0 686.6,591.8 693.9,599.0 701.1,603.5 708.4,606.0 715.6,607.5 722.9,608.5 730.1,609.2 737.4,610.0 744.6,610.0 751.9,610.0 759.1,610.0 766.4,610.0 773.6,610.0" fill="none" stroke="#ff0000" stroke-width="0.55"/>
<circle cx="483.6" cy="610.0" r="3.6" fill="#ff0000"/>
<circle cx="490.9" cy="610.0" r="3.6" fill="#ff0000"/>
<circle cx="498.1" cy="610.0" r="3.6" fill="#ff0000"/>
<circle cx="505.4" cy="610.0" r="3.6" fill="#ff0000"/>
<circle cx="512.6" cy="610.0" r="3.6" fill="#ff0000"/>
<circle cx="519.9" cy="610.0" r="3.6" fill="#ff0000"/>
<circle cx="527.1" cy="609.2" r="3.6" fill="#ff0000"/>
<circle cx="534.4" cy="608.5" r="3.6" fill="#ff0000"/>
<circle cx="541.6" cy="607.5" r="3.6" fill="#ff0000"/>
<circle cx="548.9" cy="606.0" r="3.6" fill="#ff0000"/>
<circle cx="556.1" cy="603.5" r="3.6" fill="#ff0000"/>
<circle cx="563.4" cy="599.0" r="3.6" fill="#ff0000"/>
<circle cx="570.6" cy="591.8" r="3.6" fill="#ff0000"/>
<circle cx="577.9" cy="582.0" r="3.6" fill="#ff0000"/>
<circle cx="585.1" cy="563.0" r="3.6" fill="#ff0000"/>
<circle cx="592.4" cy="551.0" r="3.6" fill="#ff0000"/>
<circle cx="599.6" cy="533.8" r="3.6" fill="#ff0000"/>
<circle cx="606.9" cy="515.8" r="3.6" fill="#ff0000"/>
<circle cx="614.1" cy="501.0" r="3.6" fill="#ff0000"/>
<circle cx="621.4" cy="494.9" r="3.6" fill="#ff0000"/>
<circle cx="628.6" cy="484.0" r="3.6" fill="#ff0000"/>
<circle cx="635.9" cy="494.9" r="3.6" fill="#ff0000"/>
<circle cx="643.1" cy="501.0" r="3.6" fill="#ff0000"/>
<circle cx="650.4" cy="515.8" r="3.6" fill="#ff0000"/>
<circle cx="657.6" cy="533.8" r="3.6" fill="#ff0000"/>
<circle cx="664.9" cy="551.0" r="3.6" fill="#ff0000"/>
<circle cx="672.1" cy="563.0" r="3.6" fill="#ff0000"/>
<circle cx="679.4" cy="582.0" r="3.6" fill="#ff0000"/>
<circle cx="686.6" cy="591.8" r="3.6" fill="#ff0000"/>
<circle cx="693.9" cy="599.0" r="3.6" fill="#ff0000"/>
<circle cx="701.1" cy="603.5" r="3.6" fill="#ff0000"/>
<circle cx="708.4" cy="606.0" r="3.6" fill="#ff0000"/>
<circle cx="715.6" cy="607.5" r="3.6" fill="#ff0000"/>
<circle cx="722.9" cy="608.5" r="3.6" fill="#ff0000"/>
<circle cx="730.1" cy="609.2" r="3.6" fill="#ff0000"/>
<circle cx="737.4" cy="610.0" r="3.6" fill="#ff0000"/>
<circle cx="744.6" cy="610.0" r="3.6" fill="#ff0000"/>
<circle cx="751.9" cy="610.0" r="3.6" fill="#ff0000"/>
<circle cx="759.1" cy="610.0" r="3.6" fill="#ff0000"/>
<circle cx="766.4" cy="610.0" r="3.6" fill="#ff0000"/>
<circle cx="773.6" cy="610.0" r="3.6" fill="#ff0000"/>
<polyline points="483.6,608.7 490.9,608.7 498.1,608.7 505.4,608.7 512.6,608.7 519.9,608.5 527.1,608.0 534.4,606.5 541.6,604.9 548.9,603.5 556.1,599.9 563.4,595.6 570.6,591.2 577.9,586.5 585.1,585.0 592.4,581.0 599.6,571.2 606.9,569.5 614.1,565.8 621.4,566.8 628.6,563.8 635.9,564.5 643.1,565.0 650.4,571.2 657.6,574.2 664.9,580.0 672.1,584.6 679.4,583.8 686.6,591.8 693.9,596.8 701.1,599.3 708.4,601.7 715.6,604.9 722.9,606.5 730.1,608.0 737.4,608.7 744.6,608.7 751.9,608.7 759.1,608.7 766.4,608.7 773.6,608.7" fill="none" stroke="#00ff00" stroke-width="0.55" stroke-dasharray="4 2.5"/>
<polygon points="479.6,612.5 487.6,612.5 483.6,605.0" fill="#00ff00"/>
<polygon points="486.9,612.5 494.9,612.5 490.9,605.0" fill="#00ff00"/>
<polygon points="494.1,612.5 502.1,612.5 498.1,605.0" fill="#00ff00"/>
<polygon points="501.4,612.5 509.4,612.5 505.4,605.0" fill="#00ff00"/>
<polygon points="508.6,612.5 516.6,612.5 512.6,605.0" fill="#00ff00"/>
<polygon points="515.9,612.2 523.9,612.2 519.9,604.8" fill="#00ff00"/>
<polygon points="523.1,611.8 531.1,611.8 527.1,604.2" fill="#00ff00"/>
<polygon points="530.4,610.2 538.4,610.2 534.4,602.8" fill="#00ff00"/>
<polygon points="537.6,608.6 545.6,608.6 541.6,601.1" fill="#00ff00"/>
<polygon points="544.9,607.2 552.9,607.2 548.9,599.8" fill="#00ff00"/>
<polygon points="552.1,603.6 560.1,603.6 556.1,596.1" fill="#00ff00"/>
<polygon points="559.4,599.4 567.4,599.4 563.4,591.9" fill="#00ff00"/>
<polygon points="566.6,595.0 574.6,595.0 570.6,587.5" fill="#00ff00"/>
<polygon points="573.9,590.2 581.9,590.2 577.9,582.8" fill="#00ff00"/>
<polygon points="581.1,588.8 589.1,588.8 585.1,581.2" fill="#00ff00"/>
<polygon points="588.4,584.8 596.4,584.8 592.4,577.2" fill="#00ff00"/>
<polygon points="595.6,575.0 603.6,575.0 599.6,567.5" fill="#00ff00"/>
<polygon points="602.9,573.2 610.9,573.2 606.9,565.8" fill="#00ff00"/>
<polygon points="610.1,569.5 618.1,569.5 614.1,562.0" fill="#00ff00"/>
<polygon points="617.4,570.5 625.4,570.5 621.4,563.0" fill="#00ff00"/>
<polygon points="624.6,567.5 632.6,567.5 628.6,560.0" fill="#00ff00"/>
<polygon points="631.9,568.2 639.9,568.2 635.9,560.8" fill="#00ff00"/>
<polygon points="639.1,568.8 647.1,568.8 643.1,561.2" fill="#00ff00"/>
<polygon points="646.4,575.0 654.4,575.0 650.4,567.5" fill="#00ff00"/>
<polygon points="653.6,578.0 661.6,578.0 657.6,570.5" fill="#00ff00"/>
<polygon points="660.9,583.8 668.9,583.8 664.9,576.2" fill="#00ff00"/>
<polygon points="668.1,588.4 676.1,588.4 672.1,580.9" fill="#00ff00"/>
<polygon points="675.4,587.5 683.4,587.5 679.4,580.0" fill="#00ff00"/>
<polygon points="682.6,595.5 690.6,595.5 686.6,588.0" fill="#00ff00"/>
<polygon points="689.9,600.5 697.9,600.5 693.9,593.0" fill="#00ff00"/>
<polygon points="697.1,603.0 705.1,603.0 701.1,595.5" fill="#00ff00"/>
<polygon points="704.4,605.5 712.4,605.5 708.4,598.0" fill="#00ff00"/>
<polygon points="711.6,608.6 719.6,608.6 715.6,601.1" fill="#00ff00"/>
<polygon points="718.9,610.2 726.9,610.2 722.9,602.8" fill="#00ff00"/>
<polygon points="726.1,611.8 734.1,611.8 730.1,604.2" fill="#00ff00"/>
<polygon points="733.4,612.5 741.4,612.5 737.4,605.0" fill="#00ff00"/>
<polygon points="740.6,612.5 748.6,612.5 744.6,605.0" fill="#00ff00"/>
<polygon points="747.9,612.5 755.9,612.5 751.9,605.0" fill="#00ff00"/>
<polygon points="755.1,612.5 763.1,612.5 759.1,605.0" fill="#00ff00"/>
<polygon points="762.4,612.5 770.4,612.5 766.4,605.0" fill="#00ff00"/>
<polygon points="769.6,612.5 777.6,612.5 773.6,605.0" fill="#00ff00"/>
<polyline points="483.6,610.0 498.1,609.5 512.6,608.0 527.1,605.5 541.6,593.3 556.1,572.0 570.6,530.5 585.1,464.7 599.6,384.9 614.1,338.7 628.6,313.0 643.1,328.7 657.6,400.6 672.1,471.8 686.6,529.6 701.1,574.3 715.6,596.8 730.1,605.5 744.6,608.5 759.1,609.5 773.6,610.0" fill="none" stroke="#00ffff" stroke-width="0.62"/>
<polygon points="478.8,610.0 483.6,605.1 488.5,610.0 483.6,614.9" fill="#00ffff"/>
<polygon points="493.2,609.5 498.1,604.6 503.0,609.5 498.1,614.4" fill="#00ffff"/>
<polygon points="507.8,608.0 512.6,603.1 517.5,608.0 512.6,612.9" fill="#00ffff"/>
<polygon points="522.2,605.5 527.1,600.6 532.0,605.5 527.1,610.4" fill="#00ffff"/>
<polygon points="536.8,593.3 541.6,588.4 546.5,593.3 541.6,598.1" fill="#00ffff"/>
<polygon points="551.2,572.0 556.1,567.1 561.0,572.0 556.1,576.9" fill="#00ffff"/>
<polygon points="565.8,530.5 570.6,525.6 575.5,530.5 570.6,535.4" fill="#00ffff"/>
<polygon points="580.2,464.7 585.1,459.8 590.0,464.7 585.1,469.6" fill="#00ffff"/>
<polygon points="594.8,384.9 599.6,380.0 604.5,384.9 599.6,389.8" fill="#00ffff"/>
<polygon points="609.2,338.7 614.1,333.8 619.0,338.7 614.1,343.6" fill="#00ffff"/>
<polygon points="623.8,313.0 628.6,308.1 633.5,313.0 628.6,317.9" fill="#00ffff"/>
<polygon points="638.2,328.7 643.1,323.8 648.0,328.7 643.1,333.6" fill="#00ffff"/>
<polygon points="652.8,400.6 657.6,395.8 662.5,400.6 657.6,405.5" fill="#00ffff"/>
<polygon points="667.2,471.8 672.1,466.9 677.0,471.8 672.1,476.7" fill="#00ffff"/>
<polygon points="681.8,529.6 686.6,524.8 691.5,529.6 686.6,534.5" fill="#00ffff"/>
<polygon points="696.2,574.3 701.1,569.4 706.0,574.3 701.1,579.1" fill="#00ffff"/>
<polygon points="710.8,596.8 715.6,591.9 720.5,596.8 715.6,601.6" fill="#00ffff"/>
<polygon points="725.2,605.5 730.1,600.6 735.0,605.5 730.1,610.4" fill="#00ffff"/>
<polygon points="739.8,608.5 744.6,603.6 749.5,608.5 744.6,613.4" fill="#00ffff"/>
<polygon points="754.2,609.5 759.1,604.6 764.0,609.5 759.1,614.4" fill="#00ffff"/>
<polygon points="768.8,610.0 773.6,605.1 778.5,610.0 773.6,614.9" fill="#00ffff"/>
<polyline points="505.4,610.0 519.9,610.0 534.4,609.0 548.9,608.0 563.4,605.5 577.9,598.0 592.4,593.0 606.9,588.4 621.4,582.5 635.9,582.3 650.4,588.2 664.9,593.6 679.4,598.7 693.9,606.1 708.4,608.0 722.9,609.0 737.4,610.0 751.9,610.0" fill="none" stroke="#ff00ff" stroke-width="0.55" stroke-dasharray="6 3"/>
<polygon points="509.1,606.0 509.1,614.0 501.6,610.0" fill="#ff00ff"/>
<polygon points="523.6,606.0 523.6,614.0 516.1,610.0" fill="#ff00ff"/>
<polygon points="538.1,605.0 538.1,613.0 530.6,609.0" fill="#ff00ff"/>
<polygon points="552.6,604.0 552.6,612.0 545.1,608.0" fill="#ff00ff"/>
<polygon points="567.1,601.5 567.1,609.5 559.6,605.5" fill="#ff00ff"/>
<polygon points="581.6,594.0 581.6,602.0 574.1,598.0" fill="#ff00ff"/>
<polygon points="596.1,589.0 596.1,597.0 588.6,593.0" fill="#ff00ff"/>
<polygon points="610.6,584.4 610.6,592.4 603.1,588.4" fill="#ff00ff"/>
<polygon points="625.1,578.5 625.1,586.5 617.6,582.5" fill="#ff00ff"/>
<polygon points="639.6,578.3 639.6,586.3 632.1,582.3" fill="#ff00ff"/>
<polygon points="654.1,584.2 654.1,592.2 646.6,588.2" fill="#ff00ff"/>
<polygon points="668.6,589.6 668.6,597.6 661.1,593.6" fill="#ff00ff"/>
<polygon points="683.1,594.7 683.1,602.7 675.6,598.7" fill="#ff00ff"/>
<polygon points="697.6,602.1 697.6,610.1 690.1,606.1" fill="#ff00ff"/>
<polygon points="712.1,604.0 712.1,612.0 704.6,608.0" fill="#ff00ff"/>
<polygon points="726.6,605.0 726.6,613.0 719.1,609.0" fill="#ff00ff"/>
<polygon points="741.1,606.0 741.1,614.0 733.6,610.0" fill="#ff00ff"/>
<polygon points="755.6,606.0 755.6,614.0 748.1,610.0" fill="#ff00ff"/>
<polyline points="483.6,611.2 498.1,611.2 512.6,611.2 527.1,611.2 541.6,609.0 556.1,607.0 570.6,600.5 585.1,582.8 599.6,568.5 614.1,538.2 628.6,532.7 643.1,544.5 657.6,560.6 672.1,579.8 686.6,596.9 701.1,606.0 715.6,608.5 730.1,611.2 744.6,611.2 759.1,611.2 773.6,611.2" fill="none" stroke="#0000ff" stroke-width="0.55"/>
<polygon points="479.6,607.5 487.6,607.5 483.6,615.0" fill="#0000ff"/>
<polygon points="494.1,607.5 502.1,607.5 498.1,615.0" fill="#0000ff"/>
<polygon points="508.6,607.5 516.6,607.5 512.6,615.0" fill="#0000ff"/>
<polygon points="523.1,607.5 531.1,607.5 527.1,615.0" fill="#0000ff"/>
<polygon points="537.6,605.2 545.6,605.2 541.6,612.8" fill="#0000ff"/>
<polygon points="552.1,603.2 560.1,603.2 556.1,610.8" fill="#0000ff"/>
<polygon points="566.6,596.8 574.6,596.8 570.6,604.2" fill="#0000ff"/>
<polygon points="581.1,579.0 589.1,579.0 585.1,586.5" fill="#0000ff"/>
<polygon points="595.6,564.8 603.6,564.8 599.6,572.2" fill="#0000ff"/>
<polygon points="610.1,534.5 618.1,534.5 614.1,542.0" fill="#0000ff"/>
<polygon points="624.6,529.0 632.6,529.0 628.6,536.5" fill="#0000ff"/>
<polygon points="639.1,540.8 647.1,540.8 643.1,548.2" fill="#0000ff"/>
<polygon points="653.6,556.9 661.6,556.9 657.6,564.4" fill="#0000ff"/>
<polygon points="668.1,576.0 676.1,576.0 672.1,583.5" fill="#0000ff"/>
<polygon points="682.6,593.1 690.6,593.1 686.6,600.6" fill="#0000ff"/>
<polygon points="697.1,602.2 705.1,602.2 701.1,609.8" fill="#0000ff"/>
<polygon points="711.6,604.8 719.6,604.8 715.6,612.2" fill="#0000ff"/>
<polygon points="726.1,607.5 734.1,607.5 730.1,615.0" fill="#0000ff"/>
<polygon points="740.6,607.5 748.6,607.5 744.6,615.0" fill="#0000ff"/>
<polygon points="755.1,607.5 763.1,607.5 759.1,615.0" fill="#0000ff"/>
<polygon points="769.6,607.5 777.6,607.5 773.6,615.0" fill="#0000ff"/>
<polyline points="483.6,610.0 498.1,610.0 512.6,610.0 527.1,609.5 541.6,608.4 556.1,605.5 570.6,597.2 585.1,583.0 599.6,560.6 614.1,537.8 628.6,527.8 643.1,537.3 657.6,560.4 672.1,581.3 686.6,597.4 701.1,605.9 715.6,608.4 730.1,609.5 744.6,610.0 759.1,610.0 773.6,610.0" fill="none" stroke="#000000" stroke-width="0.55"/>
<rect x="480.1" y="606.5" width="7" height="7" fill="#000000"/>
<rect x="494.6" y="606.5" width="7" height="7" fill="#000000"/>
<rect x="509.1" y="606.5" width="7" height="7" fill="#000000"/>
<rect x="523.6" y="606.0" width="7" height="7" fill="#000000"/>
<rect x="538.1" y="604.9" width="7" height="7" fill="#000000"/>
<rect x="552.6" y="602.0" width="7" height="7" fill="#000000"/>
<rect x="567.1" y="593.7" width="7" height="7" fill="#000000"/>
<rect x="581.6" y="579.5" width="7" height="7" fill="#000000"/>
<rect x="596.1" y="557.1" width="7" height="7" fill="#000000"/>
<rect x="610.6" y="534.3" width="7" height="7" fill="#000000"/>
<rect x="625.1" y="524.3" width="7" height="7" fill="#000000"/>
<rect x="639.6" y="533.8" width="7" height="7" fill="#000000"/>
<rect x="654.1" y="556.9" width="7" height="7" fill="#000000"/>
<rect x="668.6" y="577.8" width="7" height="7" fill="#000000"/>
<rect x="683.1" y="593.9" width="7" height="7" fill="#000000"/>
<rect x="697.6" y="602.4" width="7" height="7" fill="#000000"/>
<rect x="712.1" y="604.9" width="7" height="7" fill="#000000"/>
<rect x="726.6" y="606.0" width="7" height="7" fill="#000000"/>
<rect x="741.1" y="606.5" width="7" height="7" fill="#000000"/>
<rect x="755.6" y="606.5" width="7" height="7" fill="#000000"/>
<rect x="770.1" y="606.5" width="7" height="7" fill="#000000"/>
</g>
<g clip-path="url(#c2b)">
<polyline points="483.6,931.0 490.9,931.0 498.1,931.0 505.4,931.0 512.6,931.0 519.9,931.0 527.1,931.0 534.4,930.3 541.6,929.5 548.9,928.0 556.1,926.0 563.4,921.4 570.6,918.0 577.9,908.4 585.1,893.2 592.4,876.0 599.6,841.3 606.9,817.8 614.1,791.8 621.4,767.3 628.6,762.8 635.9,767.3 643.1,791.8 650.4,817.8 657.6,841.3 664.9,876.0 672.1,893.2 679.4,908.4 686.6,918.0 693.9,921.4 701.1,926.0 708.4,928.0 715.6,929.5 722.9,930.3 730.1,931.0 737.4,931.0 744.6,931.0 751.9,931.0 759.1,931.0 766.4,931.0 773.6,931.0" fill="none" stroke="#ff0000" stroke-width="0.55"/>
<circle cx="483.6" cy="931.0" r="3.6" fill="#ff0000"/>
<circle cx="490.9" cy="931.0" r="3.6" fill="#ff0000"/>
<circle cx="498.1" cy="931.0" r="3.6" fill="#ff0000"/>
<circle cx="505.4" cy="931.0" r="3.6" fill="#ff0000"/>
<circle cx="512.6" cy="931.0" r="3.6" fill="#ff0000"/>
<circle cx="519.9" cy="931.0" r="3.6" fill="#ff0000"/>
<circle cx="527.1" cy="931.0" r="3.6" fill="#ff0000"/>
<circle cx="534.4" cy="930.3" r="3.6" fill="#ff0000"/>
<circle cx="541.6" cy="929.5" r="3.6" fill="#ff0000"/>
<circle cx="548.9" cy="928.0" r="3.6" fill="#ff0000"/>
<circle cx="556.1" cy="926.0" r="3.6" fill="#ff0000"/>
<circle cx="563.4" cy="921.4" r="3.6" fill="#ff0000"/>
<circle cx="570.6" cy="918.0" r="3.6" fill="#ff0000"/>
<circle cx="577.9" cy="908.4" r="3.6" fill="#ff0000"/>
<circle cx="585.1" cy="893.2" r="3.6" fill="#ff0000"/>
<circle cx="592.4" cy="876.0" r="3.6" fill="#ff0000"/>
<circle cx="599.6" cy="841.3" r="3.6" fill="#ff0000"/>
<circle cx="606.9" cy="817.8" r="3.6" fill="#ff0000"/>
<circle cx="614.1" cy="791.8" r="3.6" fill="#ff0000"/>
<circle cx="621.4" cy="767.3" r="3.6" fill="#ff0000"/>
<circle cx="628.6" cy="762.8" r="3.6" fill="#ff0000"/>
<circle cx="635.9" cy="767.3" r="3.6" fill="#ff0000"/>
<circle cx="643.1" cy="791.8" r="3.6" fill="#ff0000"/>
<circle cx="650.4" cy="817.8" r="3.6" fill="#ff0000"/>
<circle cx="657.6" cy="841.3" r="3.6" fill="#ff0000"/>
<circle cx="664.9" cy="876.0" r="3.6" fill="#ff0000"/>
<circle cx="672.1" cy="893.2" r="3.6" fill="#ff0000"/>
<circle cx="679.4" cy="908.4" r="3.6" fill="#ff0000"/>
<circle cx="686.6" cy="918.0" r="3.6" fill="#ff0000"/>
<circle cx="693.9" cy="921.4" r="3.6" fill="#ff0000"/>
<circle cx="701.1" cy="926.0" r="3.6" fill="#ff0000"/>
<circle cx="708.4" cy="928.0" r="3.6" fill="#ff0000"/>
<circle cx="715.6" cy="929.5" r="3.6" fill="#ff0000"/>
<circle cx="722.9" cy="930.3" r="3.6" fill="#ff0000"/>
<circle cx="730.1" cy="931.0" r="3.6" fill="#ff0000"/>
<circle cx="737.4" cy="931.0" r="3.6" fill="#ff0000"/>
<circle cx="744.6" cy="931.0" r="3.6" fill="#ff0000"/>
<circle cx="751.9" cy="931.0" r="3.6" fill="#ff0000"/>
<circle cx="759.1" cy="931.0" r="3.6" fill="#ff0000"/>
<circle cx="766.4" cy="931.0" r="3.6" fill="#ff0000"/>
<circle cx="773.6" cy="931.0" r="3.6" fill="#ff0000"/>
<polyline points="483.6,931.0 498.1,930.5 512.6,929.5 527.1,926.0 541.6,919.6 556.1,904.0 570.6,873.6 585.1,809.5 599.6,728.1 614.1,625.5 628.6,569.0 643.1,619.2 657.6,730.6 672.1,809.5 686.6,871.8 701.1,900.8 715.6,921.0 730.1,927.4 744.6,929.7 759.1,930.5 773.6,931.0" fill="none" stroke="#00ffff" stroke-width="0.62"/>
<polygon points="478.8,931.0 483.6,926.1 488.5,931.0 483.6,935.9" fill="#00ffff"/>
<polygon points="493.2,930.5 498.1,925.6 503.0,930.5 498.1,935.4" fill="#00ffff"/>
<polygon points="507.8,929.5 512.6,924.6 517.5,929.5 512.6,934.4" fill="#00ffff"/>
<polygon points="522.2,926.0 527.1,921.1 532.0,926.0 527.1,930.9" fill="#00ffff"/>
<polygon points="536.8,919.6 541.6,914.8 546.5,919.6 541.6,924.5" fill="#00ffff"/>
<polygon points="551.2,904.0 556.1,899.1 561.0,904.0 556.1,908.9" fill="#00ffff"/>
<polygon points="565.8,873.6 570.6,868.8 575.5,873.6 570.6,878.5" fill="#00ffff"/>
<polygon points="580.2,809.5 585.1,804.6 590.0,809.5 585.1,814.4" fill="#00ffff"/>
<polygon points="594.8,728.1 599.6,723.2 604.5,728.1 599.6,733.0" fill="#00ffff"/>
<polygon points="609.2,625.5 614.1,620.6 619.0,625.5 614.1,630.4" fill="#00ffff"/>
<polygon points="623.8,569.0 628.6,564.1 633.5,569.0 628.6,573.9" fill="#00ffff"/>
<polygon points="638.2,619.2 643.1,614.4 648.0,619.2 643.1,624.1" fill="#00ffff"/>
<polygon points="652.8,730.6 657.6,725.8 662.5,730.6 657.6,735.5" fill="#00ffff"/>
<polygon points="667.2,809.5 672.1,804.6 677.0,809.5 672.1,814.4" fill="#00ffff"/>
<polygon points="681.8,871.8 686.6,866.9 691.5,871.8 686.6,876.6" fill="#00ffff"/>
<polygon points="696.2,900.8 701.1,895.9 706.0,900.8 701.1,905.6" fill="#00ffff"/>
<polygon points="710.8,921.0 715.6,916.1 720.5,921.0 715.6,925.9" fill="#00ffff"/>
<polygon points="725.2,927.4 730.1,922.5 735.0,927.4 730.1,932.2" fill="#00ffff"/>
<polygon points="739.8,929.7 744.6,924.9 749.5,929.7 744.6,934.6" fill="#00ffff"/>
<polygon points="754.2,930.5 759.1,925.6 764.0,930.5 759.1,935.4" fill="#00ffff"/>
<polygon points="768.8,931.0 773.6,926.1 778.5,931.0 773.6,935.9" fill="#00ffff"/>
<polyline points="505.4,931.0 519.9,931.0 534.4,930.0 548.9,929.0 563.4,925.9 577.9,917.7 592.4,907.3 606.9,889.7 621.4,887.7 635.9,887.7 650.4,889.7 664.9,907.3 679.4,916.5 693.9,926.0 708.4,928.7 722.9,930.0 737.4,931.0 751.9,931.0" fill="none" stroke="#ff00ff" stroke-width="0.55" stroke-dasharray="6 3"/>
<polygon points="509.1,927.0 509.1,935.0 501.6,931.0" fill="#ff00ff"/>
<polygon points="523.6,927.0 523.6,935.0 516.1,931.0" fill="#ff00ff"/>
<polygon points="538.1,926.0 538.1,934.0 530.6,930.0" fill="#ff00ff"/>
<polygon points="552.6,925.0 552.6,933.0 545.1,929.0" fill="#ff00ff"/>
<polygon points="567.1,921.9 567.1,929.9 559.6,925.9" fill="#ff00ff"/>
<polygon points="581.6,913.7 581.6,921.7 574.1,917.7" fill="#ff00ff"/>
<polygon points="596.1,903.3 596.1,911.3 588.6,907.3" fill="#ff00ff"/>
<polygon points="610.6,885.7 610.6,893.7 603.1,889.7" fill="#ff00ff"/>
<polygon points="625.1,883.7 625.1,891.7 617.6,887.7" fill="#ff00ff"/>
<polygon points="639.6,883.7 639.6,891.7 632.1,887.7" fill="#ff00ff"/>
<polygon points="654.1,885.7 654.1,893.7 646.6,889.7" fill="#ff00ff"/>
<polygon points="668.6,903.3 668.6,911.3 661.1,907.3" fill="#ff00ff"/>
<polygon points="683.1,912.5 683.1,920.5 675.6,916.5" fill="#ff00ff"/>
<polygon points="697.6,922.0 697.6,930.0 690.1,926.0" fill="#ff00ff"/>
<polygon points="712.1,924.7 712.1,932.7 704.6,928.7" fill="#ff00ff"/>
<polygon points="726.6,926.0 726.6,934.0 719.1,930.0" fill="#ff00ff"/>
<polygon points="741.1,927.0 741.1,935.0 733.6,931.0" fill="#ff00ff"/>
<polygon points="755.6,927.0 755.6,935.0 748.1,931.0" fill="#ff00ff"/>
<polyline points="483.6,932.2 498.1,932.2 512.6,932.2 527.1,932.2 541.6,930.0 556.1,929.0 570.6,925.3 585.1,905.9 599.6,869.7 614.1,854.0 628.6,825.4 643.1,843.1 657.6,878.5 672.1,909.8 686.6,920.4 701.1,928.0 715.6,930.0 730.1,932.2 744.6,932.2 759.1,932.2 773.6,932.2" fill="none" stroke="#0000ff" stroke-width="0.55"/>
<polygon points="479.6,928.5 487.6,928.5 483.6,936.0" fill="#0000ff"/>
<polygon points="494.1,928.5 502.1,928.5 498.1,936.0" fill="#0000ff"/>
<polygon points="508.6,928.5 516.6,928.5 512.6,936.0" fill="#0000ff"/>
<polygon points="523.1,928.5 531.1,928.5 527.1,936.0" fill="#0000ff"/>
<polygon points="537.6,926.2 545.6,926.2 541.6,933.8" fill="#0000ff"/>
<polygon points="552.1,925.2 560.1,925.2 556.1,932.8" fill="#0000ff"/>
<polygon points="566.6,921.5 574.6,921.5 570.6,929.0" fill="#0000ff"/>
<polygon points="581.1,902.1 589.1,902.1 585.1,909.6" fill="#0000ff"/>
<polygon points="595.6,866.0 603.6,866.0 599.6,873.5" fill="#0000ff"/>
<polygon points="610.1,850.2 618.1,850.2 614.1,857.8" fill="#0000ff"/>
<polygon points="624.6,821.6 632.6,821.6 628.6,829.1" fill="#0000ff"/>
<polygon points="639.1,839.4 647.1,839.4 643.1,846.9" fill="#0000ff"/>
<polygon points="653.6,874.8 661.6,874.8 657.6,882.2" fill="#0000ff"/>
<polygon points="668.1,906.0 676.1,906.0 672.1,913.5" fill="#0000ff"/>
<polygon points="682.6,916.6 690.6,916.6 686.6,924.1" fill="#0000ff"/>
<polygon points="697.1,924.2 705.1,924.2 701.1,931.8" fill="#0000ff"/>
<polygon points="711.6,926.2 719.6,926.2 715.6,933.8" fill="#0000ff"/>
<polygon points="726.1,928.5 734.1,928.5 730.1,936.0" fill="#0000ff"/>
<polygon points="740.6,928.5 748.6,928.5 744.6,936.0" fill="#0000ff"/>
<polygon points="755.1,928.5 763.1,928.5 759.1,936.0" fill="#0000ff"/>
<polygon points="769.6,928.5 777.6,928.5 773.6,936.0" fill="#0000ff"/>
<polyline points="483.6,931.0 498.1,931.0 512.6,931.0 527.1,930.0 541.6,927.9 556.1,922.6 570.6,904.0 585.1,865.8 599.6,809.2 614.1,749.8 628.6,678.2 643.1,747.1 657.6,810.3 672.1,866.2 686.6,903.3 701.1,921.1 715.6,928.3 730.1,930.0 744.6,931.0 759.1,931.0 773.6,931.0" fill="none" stroke="#000000" stroke-width="0.55"/>
<rect x="480.1" y="927.5" width="7" height="7" fill="#000000"/>
<rect x="494.6" y="927.5" width="7" height="7" fill="#000000"/>
<rect x="509.1" y="927.5" width="7" height="7" fill="#000000"/>
<rect x="523.6" y="926.5" width="7" height="7" fill="#000000"/>
<rect x="538.1" y="924.4" width="7" height="7" fill="#000000"/>
<rect x="552.6" y="919.1" width="7" height="7" fill="#000000"/>
<rect x="567.1" y="900.5" width="7" height="7" fill="#000000"/>
<rect x="581.6" y="862.3" width="7" height="7" fill="#000000"/>
<rect x="596.1" y="805.7" width="7" height="7" fill="#000000"/>
<rect x="610.6" y="746.3" width="7" height="7" fill="#000000"/>
<rect x="625.1" y="674.7" width="7" height="7" fill="#000000"/>
<rect x="639.6" y="743.6" width="7" height="7" fill="#000000"/>
<rect x="654.1" y="806.8" width="7" height="7" fill="#000000"/>
<rect x="668.6" y="862.7" width="7" height="7" fill="#000000"/>
<rect x="683.1" y="899.8" width="7" height="7" fill="#000000"/>
<rect x="697.6" y="917.6" width="7" height="7" fill="#000000"/>
<rect x="712.1" y="924.8" width="7" height="7" fill="#000000"/>
<rect x="726.6" y="926.5" width="7" height="7" fill="#000000"/>
<rect x="741.1" y="927.5" width="7" height="7" fill="#000000"/>
<rect x="755.6" y="927.5" width="7" height="7" fill="#000000"/>
<rect x="770.1" y="927.5" width="7" height="7" fill="#000000"/>
</g>
<rect x="140.0" y="289.0" width="290.0" height="642.0" fill="none" stroke="#000" stroke-width="1.5"/>
<line x1="140.0" y1="610.0" x2="430.0" y2="610.0" stroke="#000" stroke-width="1.5"/>
<rect x="483.6" y="289.0" width="290.0" height="642.0" fill="none" stroke="#000" stroke-width="1.5"/>
<line x1="483.6" y1="610.0" x2="773.6" y2="610.0" stroke="#000" stroke-width="1.5"/>
<text transform="translate(134.3,616.8) scale(1,1.049)" font-size="24.24" text-anchor="end" font-family="Liberation Sans, sans-serif" >0.0</text>
<text transform="translate(134.3,536.5) scale(1,1.049)" font-size="24.24" text-anchor="end" font-family="Liberation Sans, sans-serif" >0.5</text>
<text transform="translate(134.3,456.3) scale(1,1.049)" font-size="24.24" text-anchor="end" font-family="Liberation Sans, sans-serif" >1.0</text>
<text transform="translate(134.3,376.1) scale(1,1.049)" font-size="24.24" text-anchor="end" font-family="Liberation Sans, sans-serif" >1.5</text>
<text transform="translate(134.3,295.8) scale(1,1.049)" font-size="24.24" text-anchor="end" font-family="Liberation Sans, sans-serif" >2.0</text>
<text transform="translate(134.3,937.8) scale(1,1.049)" font-size="24.24" text-anchor="end" font-family="Liberation Sans, sans-serif" >0.0</text>
<text transform="translate(134.3,873.7) scale(1,1.049)" font-size="24.24" text-anchor="end" font-family="Liberation Sans, sans-serif" >0.5</text>
<text transform="translate(134.3,809.5) scale(1,1.049)" font-size="24.24" text-anchor="end" font-family="Liberation Sans, sans-serif" >1.0</text>
<text transform="translate(134.3,745.4) scale(1,1.049)" font-size="24.24" text-anchor="end" font-family="Liberation Sans, sans-serif" >1.5</text>
<text transform="translate(134.3,681.3) scale(1,1.049)" font-size="24.24" text-anchor="end" font-family="Liberation Sans, sans-serif" >2.0</text>
<text transform="translate(477.9,616.8) scale(1,1.049)" font-size="24.24" text-anchor="end" font-family="Liberation Sans, sans-serif" >0.0</text>
<text transform="translate(477.9,544.0) scale(1,1.049)" font-size="24.24" text-anchor="end" font-family="Liberation Sans, sans-serif" >0.5</text>
<text transform="translate(477.9,471.2) scale(1,1.049)" font-size="24.24" text-anchor="end" font-family="Liberation Sans, sans-serif" >1.0</text>
<text transform="translate(477.9,398.3) scale(1,1.049)" font-size="24.24" text-anchor="end" font-family="Liberation Sans, sans-serif" >1.5</text>
<text transform="translate(477.9,325.5) scale(1,1.049)" font-size="24.24" text-anchor="end" font-family="Liberation Sans, sans-serif" >2.0</text>
<text transform="translate(477.9,937.8) scale(1,1.049)" font-size="24.24" text-anchor="end" font-family="Liberation Sans, sans-serif" >0.0</text>
<text transform="translate(477.9,857.5) scale(1,1.049)" font-size="24.24" text-anchor="end" font-family="Liberation Sans, sans-serif" >0.5</text>
<text transform="translate(477.9,777.2) scale(1,1.049)" font-size="24.24" text-anchor="end" font-family="Liberation Sans, sans-serif" >1.0</text>
<text transform="translate(477.9,696.9) scale(1,1.049)" font-size="24.24" text-anchor="end" font-family="Liberation Sans, sans-serif" >1.5</text>
<text transform="translate(821.3,616.8) scale(1,1.049)" font-size="24.24" text-anchor="end" font-family="Liberation Sans, sans-serif" >0.0</text>
<text transform="translate(821.3,510.0) scale(1,1.049)" font-size="24.24" text-anchor="end" font-family="Liberation Sans, sans-serif" >0.5</text>
<text transform="translate(821.3,403.2) scale(1,1.049)" font-size="24.24" text-anchor="end" font-family="Liberation Sans, sans-serif" >1.0</text>
<text transform="translate(821.3,296.4) scale(1,1.049)" font-size="24.24" text-anchor="end" font-family="Liberation Sans, sans-serif" >1.5</text>
<text transform="translate(821.3,937.8) scale(1,1.049)" font-size="24.24" text-anchor="end" font-family="Liberation Sans, sans-serif" >0.0</text>
<text transform="translate(821.3,831.2) scale(1,1.049)" font-size="24.24" text-anchor="end" font-family="Liberation Sans, sans-serif" >0.5</text>
<text transform="translate(821.3,724.7) scale(1,1.049)" font-size="24.24" text-anchor="end" font-family="Liberation Sans, sans-serif" >1.0</text>
<text transform="translate(139.7,955.8) scale(1,1.049)" font-size="24.24" text-anchor="middle" font-family="Liberation Sans, sans-serif" >-2</text>
<text transform="translate(212.2,955.8) scale(1,1.049)" font-size="24.24" text-anchor="middle" font-family="Liberation Sans, sans-serif" >-1</text>
<text transform="translate(285.0,955.8) scale(1,1.049)" font-size="24.24" text-anchor="middle" font-family="Liberation Sans, sans-serif" >0</text>
<text transform="translate(357.5,955.8) scale(1,1.049)" font-size="24.24" text-anchor="middle" font-family="Liberation Sans, sans-serif" >1</text>
<text transform="translate(430.0,955.8) scale(1,1.049)" font-size="24.24" text-anchor="middle" font-family="Liberation Sans, sans-serif" >2</text>
<text transform="translate(255.8,988.0) scale(1,1.04)" font-size="25.5" font-family="Liberation Sans, sans-serif">y-y</text>
<text x="290.0" y="998.5" font-size="16.55" font-family="Liberation Sans, sans-serif">c.m.</text>
<text transform="translate(483.3,955.8) scale(1,1.049)" font-size="24.24" text-anchor="middle" font-family="Liberation Sans, sans-serif" >-2</text>
<text transform="translate(555.8,955.8) scale(1,1.049)" font-size="24.24" text-anchor="middle" font-family="Liberation Sans, sans-serif" >-1</text>
<text transform="translate(628.6,955.8) scale(1,1.049)" font-size="24.24" text-anchor="middle" font-family="Liberation Sans, sans-serif" >0</text>
<text transform="translate(701.1,955.8) scale(1,1.049)" font-size="24.24" text-anchor="middle" font-family="Liberation Sans, sans-serif" >1</text>
<text transform="translate(773.6,955.8) scale(1,1.049)" font-size="24.24" text-anchor="middle" font-family="Liberation Sans, sans-serif" >2</text>
<text transform="translate(599.4,988.0) scale(1,1.04)" font-size="25.5" font-family="Liberation Sans, sans-serif">y-y</text>
<text x="633.6" y="998.5" font-size="16.55" font-family="Liberation Sans, sans-serif">c.m.</text>
<text transform="translate(82.2,611.5) rotate(-90) scale(1,1.04)" font-size="27.40" text-anchor="middle" font-family="Liberation Sans, sans-serif">dN/dy</text>
<rect x="153.0" y="262.0" width="246.8" height="40.6" fill="#fff" stroke="#000" stroke-width="1.5"/>
<text transform="translate(276.0,291.5) scale(1,1.035)" font-size="27.24" text-anchor="middle" font-family="Liberation Sans, sans-serif" >Au+Au 0.96 AGeV</text>
<rect x="508.9" y="262.0" width="246.9" height="40.6" fill="#fff" stroke="#000" stroke-width="1.5"/>
<text transform="translate(632.2,291.5) scale(1,1.035)" font-size="27.24" text-anchor="middle" font-family="Liberation Sans, sans-serif" >Au+Au 1.48 AGeV</text>
<rect x="82.8" y="380.9" width="157.0" height="33.9" fill="#fff" stroke="#000" stroke-width="1.5"/>
<text transform="translate(161.4,406.2) scale(1,1.049)" font-size="24.24" text-anchor="middle" font-family="Liberation Sans, sans-serif" >no potential</text>
<rect x="83.4" y="689.3" width="176.6" height="34.2" fill="#fff" stroke="#000" stroke-width="1.5"/>
<text transform="translate(171.3,714.9) scale(1,1.049)" font-size="24.04" text-anchor="middle" font-family="Liberation Sans, sans-serif" >with potential</text>
<rect x="153.5" y="453.2" width="56.5" height="44.1" fill="#fff" stroke="#000" stroke-width="1.5"/>
<text transform="translate(167.5,487.6) scale(1,1.049)" font-size="26.94" text-anchor="start" font-family="Liberation Sans, sans-serif" >K</text>
<line x1="186.9" y1="468.4" x2="191.1" y2="468.4" stroke="#000" stroke-width="1.4"/>
<line x1="191.9" y1="468.4" x2="196.1" y2="468.4" stroke="#000" stroke-width="1.4"/>
<text transform="translate(370.0,335.2) scale(1,1.08)" font-size="20.65" font-family="Liberation Sans, sans-serif">x10</text>
<text transform="translate(403.6,323.6) scale(1,1.05)" font-size="13.1" font-family="Liberation Sans, sans-serif">-3</text>
<text transform="translate(370.0,656.9) scale(1,1.08)" font-size="20.65" font-family="Liberation Sans, sans-serif">x10</text>
<text transform="translate(403.6,645.3) scale(1,1.05)" font-size="13.1" font-family="Liberation Sans, sans-serif">-3</text>
<text transform="translate(714.6,328.9) scale(1,1.08)" font-size="20.65" font-family="Liberation Sans, sans-serif">x10</text>
<text transform="translate(748.2,317.3) scale(1,1.05)" font-size="13.1" font-family="Liberation Sans, sans-serif">-2</text>
<text transform="translate(717.6,648.9) scale(1,1.08)" font-size="20.65" font-family="Liberation Sans, sans-serif">x10</text>
<text transform="translate(751.2,637.3) scale(1,1.05)" font-size="13.1" font-family="Liberation Sans, sans-serif">-2</text>
</svg>
</body></html>
